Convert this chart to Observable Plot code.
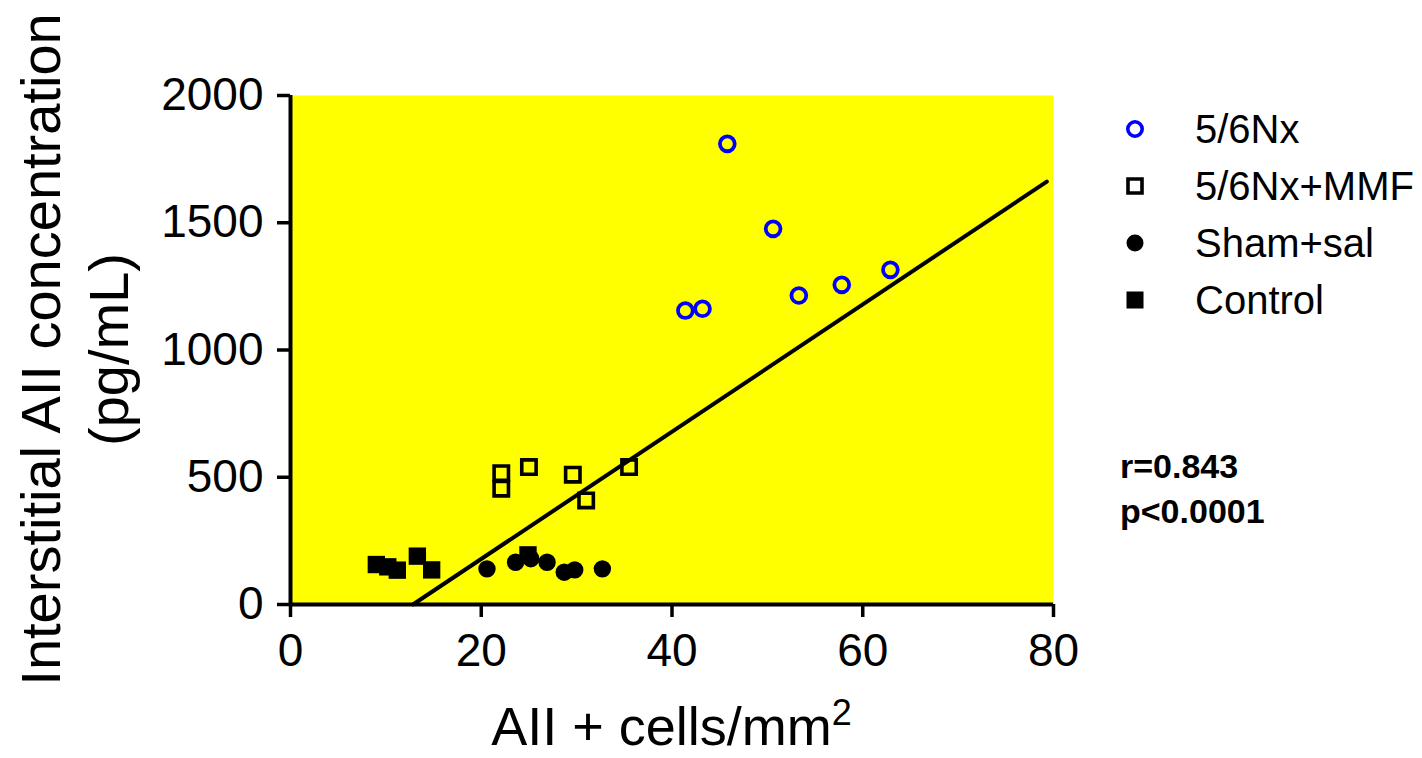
<!DOCTYPE html>
<html>
<head>
<meta charset="utf-8">
<script src="https://cdn.jsdelivr.net/npm/d3@7"></script>
<script src="https://cdn.jsdelivr.net/npm/@observablehq/plot@0.6"></script>
<style>
  html, body { margin: 0; padding: 0; background: #ffffff; }
  #chart svg { display: block; }
</style>
</head>
<body>
<div id="chart"></div>
<script>
// ---- data ----
const nxX   = [41.4, 43.2, 45.8, 50.6, 53.3, 57.8, 62.9];
const nxY   = [1155, 1162, 1810, 1476, 1214, 1256, 1315];

const mmfX  = [22.1, 22.1, 25.0, 29.6, 31.0, 35.5];
const mmfY  = [516, 455, 540, 510, 409, 540];

const shamX = [20.6, 23.6, 25.2, 26.9, 28.7, 29.8, 32.7];
const shamY = [140, 166, 180, 166, 127, 136, 140];

const ctrlX = [9.0, 10.2, 11.2, 13.3, 14.8, 24.9];
const ctrlY = [157, 148, 135, 190, 136, 195];

const fitSlope = 25.0;
const fitIntercept = -321;
const fitXRange = [12.84, 79.3];

const xTicks = [0, 20, 40, 60, 80];
const yTicks = [0, 500, 1000, 1500, 2000];

const groupNames = ["5/6Nx", "5/6Nx+MMF", "Sham+sal", "Control"];
const statLines = ["r=0.843", "p<0.0001"];
const xTitle = "AII + cells/mm";
const xTitleSup = "2";
const yTitleLines = ["Interstitial AII concentration", "(pg/mL)"];

// ---- build tables ----
const zip = (xs, ys) => xs.map((x, i) => ({x, y: ys[i]}));
const nx = zip(nxX, nxY);
const mmf = zip(mmfX, mmfY);
const sham = zip(shamX, shamY);
const ctrl = zip(ctrlX, ctrlY);
const fit = fitXRange.map(x => ({x, y: fitSlope * x + fitIntercept}));

const FONT = "Liberation Sans, Arial, Helvetica, sans-serif";
const W = 1422, H = 758;
const mL = 290, mR = 369, mT = 95, mB = 154;

const chart = Plot.plot({
  width: W,
  height: H,
  marginLeft: mL,
  marginRight: mR,
  marginTop: mT,
  marginBottom: mB,
  style: { fontFamily: FONT, background: "#ffffff", color: "#000000", overflow: "visible" },
  x: { domain: [0, 80] },
  y: { domain: [0, 2000] },
  marks: [
    Plot.frame({ fill: "#ffff00", stroke: null }),
    Plot.dot(ctrl, { x: "x", y: "y", symbol: "square", r: 9.8, fill: "#000000", stroke: null }),
    Plot.dot(sham, { x: "x", y: "y", symbol: "circle", r: 8.7, fill: "#000000", stroke: null }),
    Plot.dot(mmf, { x: "x", y: "y", symbol: "square", r: 8.1, fill: "none", stroke: "#000000", strokeWidth: 3.6 }),
    Plot.dot(nx, { x: "x", y: "y", symbol: "circle", r: 7.4, fill: "none", stroke: "#0000ff", strokeWidth: 3.8 }),
    Plot.line(fit, { x: "x", y: "y", stroke: "#000000", strokeWidth: 4 }),
    Plot.ruleX([0], { stroke: "#000000", strokeWidth: 4 }),
    Plot.ruleY([0], { stroke: "#000000", strokeWidth: 4 }),
    Plot.axisX({ ticks: xTicks, tickSize: 13, tickPadding: 16, fontSize: 46, strokeWidth: 3.5, label: null, tickFormat: d => String(d) }),
    Plot.axisY({ ticks: yTicks, tickSize: 13, tickPadding: 14, fontSize: 46, strokeWidth: 3.5, label: null, tickFormat: d => String(d) })
  ]
});

document.getElementById("chart").appendChild(chart);

// ---- titles, legend and statistics (non-data annotations) ----
const svg = d3.select(chart);
const plotCx = (mL + (W - mR)) / 2;
const plotCy = (mT + (H - mB)) / 2;

const xt = svg.append("text")
  .attr("x", plotCx).attr("y", 745)
  .attr("text-anchor", "middle")
  .attr("font-family", FONT).attr("font-size", 54).attr("fill", "#000");
xt.append("tspan").text(xTitle);
xt.append("tspan").attr("font-size", 36).attr("dy", -20).text(xTitleSup);

const yBaselines = [60, 128];
yTitleLines.forEach((t, i) => {
  svg.append("text")
    .attr("transform", `translate(${yBaselines[i]},${plotCy}) rotate(-90)`)
    .attr("text-anchor", "middle")
    .attr("font-family", FONT).attr("font-size", 56).attr("fill", "#000")
    .text(t);
});

// legend
const legendY = [129, 186, 243, 300];
const legendSymX = 1135;
const legendTextX = 1195;
const leg = svg.append("g");
const sym = [
  { type: d3.symbolCircle, r: 7.2, fill: "none", stroke: "#0000ff" },
  { type: d3.symbolSquare, r: 7.9, fill: "none", stroke: "#000000" },
  { type: d3.symbolCircle, r: 8.5, fill: "#000000", stroke: "none" },
  { type: d3.symbolSquare, r: 9.6, fill: "#000000", stroke: "none" }
];
groupNames.forEach((name, i) => {
  const s = sym[i];
  leg.append("path")
    .attr("transform", `translate(${legendSymX},${legendY[i]})`)
    .attr("d", d3.symbol(s.type, s.r * s.r * Math.PI)())
    .attr("fill", s.fill).attr("stroke", s.stroke).attr("stroke-width", 3.6);
  leg.append("text")
    .attr("x", legendTextX).attr("y", legendY[i] + 14)
    .attr("text-anchor", "start")
    .attr("font-family", FONT).attr("font-size", 40).attr("fill", "#000")
    .text(name);
});

// statistics
const statBaselines = [478, 523];
statLines.forEach((t, i) => {
  svg.append("text")
    .attr("x", 1120).attr("y", statBaselines[i])
    .attr("text-anchor", "start")
    .attr("font-family", FONT).attr("font-size", 34).attr("font-weight", "bold").attr("fill", "#000")
    .text(t);
});
</script>
</body>
</html>
